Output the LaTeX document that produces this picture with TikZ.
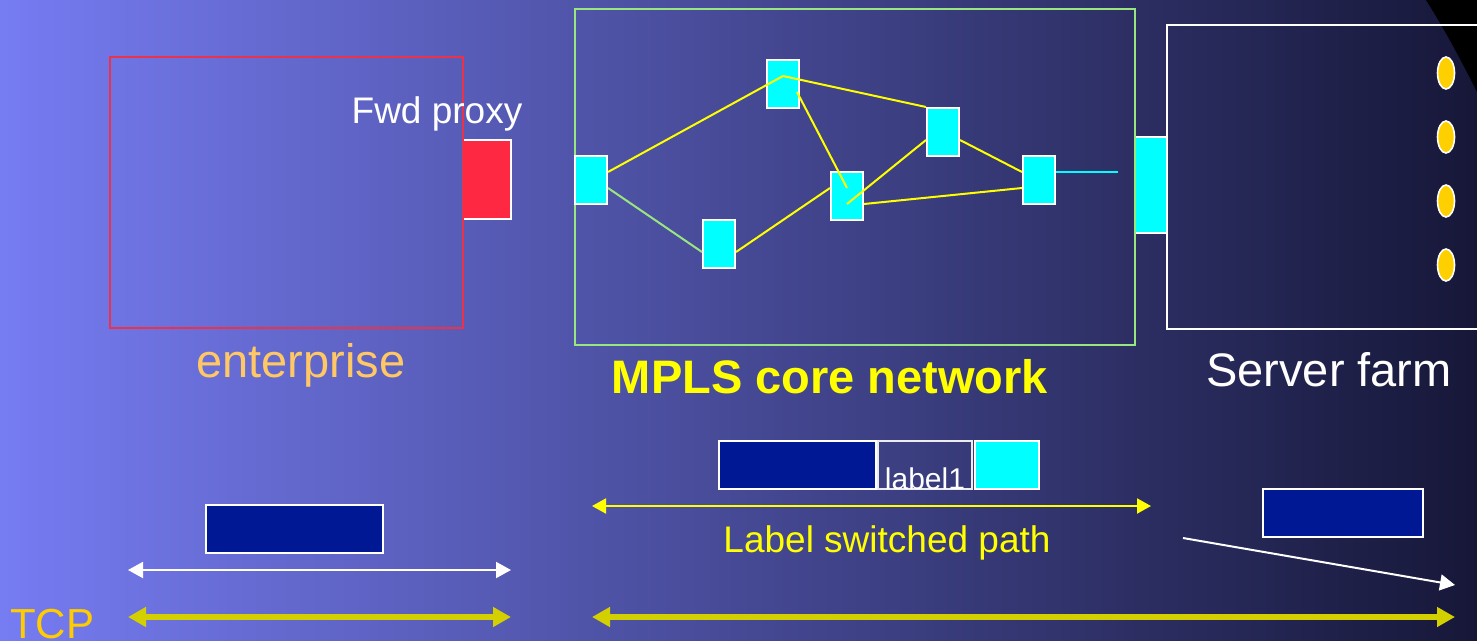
\documentclass[tikz,border=0pt]{standalone}
\usepackage{fontspec}
\setmainfont{Liberation Sans}
\usetikzlibrary{arrows.meta,calc,shapes.geometric}

\definecolor{bgL}{RGB}{118,124,242}
\definecolor{bgM}{RGB}{72,76,156}
\definecolor{bgR}{RGB}{22,23,56}
\definecolor{entred}{RGB}{235,50,75}
\definecolor{proxyred}{RGB}{255,40,66}
\definecolor{mplsgreen}{RGB}{153,230,128}
\definecolor{pktblue}{RGB}{0,24,148}
\definecolor{farmyellow}{RGB}{255,208,0}
\definecolor{entorange}{RGB}{255,200,100}
\definecolor{tcpyellow}{RGB}{212,208,0}
\definecolor{tcptext}{RGB}{255,204,0}
\definecolor{aqua}{RGB}{0,255,255}
\definecolor{lineyellow}{RGB}{255,255,0}

\newcommand{\fs}[1]{\fontsize{#1}{#1}\selectfont}

\tikzset{
  router/.style={draw=white, line width=2pt, fill=aqua, minimum width=32pt, minimum height=48pt, inner sep=0pt},
  link/.style={lineyellow, line width=2pt},
  pkt/.style={draw=white, line width=1.6pt, fill=pktblue, inner sep=0pt},
  server/.style={ellipse, draw=white, line width=1.6pt, fill=farmyellow, minimum width=17pt, minimum height=32pt, inner sep=0pt},
  thin arrow/.style={white, line width=2pt, -{Triangle[length=15pt,width=16pt]}},
  thin both/.style={line width=2pt, {Triangle[length=15pt,width=16pt]}-{Triangle[length=15pt,width=16pt]}},
  tcp both/.style={tcpyellow, line width=6pt, {Triangle[length=18pt,width=19pt]}-{Triangle[length=18pt,width=19pt]}},
  caption/.style={anchor=base, inner sep=0pt}
}

\begin{document}
\begin{tikzpicture}[x=1pt,y=-1pt]
  \useasboundingbox (0,0) rectangle (1477,640);
  % background gradient and dark corner
  \fill[left color=bgL, middle color=bgM, right color=bgR] (0,0) rectangle (1477,640);
  \fill[black] (1426,0) .. controls (1445,30) and (1462,62) .. (1477,92) -- (1477,0) -- cycle;

  % server farm
  \draw[white, line width=2pt] (1167,25) rectangle (1490,329);
  \foreach \y [count=\i] in {73,137,201,265}
    \node[server] (s\i) at (1446,\y) {};
  \node[caption, white] (farm) at (1329,386) {\fs{47}Server farm};

  % edge router between core and farm
  \node[router, minimum width=32pt, minimum height=96pt] (edge) at (1151,185) {};

  % MPLS core
  \draw[mplsgreen, line width=2pt] (575,9) rectangle (1135,345);
  \node[caption, lineyellow] (mpls) at (830,393) {\fs{47}\bfseries MPLS core network};

  \node[router] (r1) at (591,180) {};
  \node[router] (r2) at (783,84) {};
  \node[router] (r3) at (719,244) {};
  \node[router] (r4) at (847,196) {};
  \node[router] (r5) at (943,132) {};
  \node[router] (r6) at (1039,180) {};
  \coordinate (tail) at (1118,172);

  \draw[link] ($(r1.east)+(0,-8)$) -- ($(r2.center)+(0,-8)$) -- (r5.north west);
  \draw[link] ($(r2.center)+(14,8)$) -- ($(r4.center)+(0,-8)$);
  \draw[link] ($(r4.center)+(0,8)$) -- ($(r5.west)+(0,8)$);
  \draw[link] ($(r4.east)+(0,8)$) -- ($(r6.west)+(0,8)$);
  \draw[link] ($(r5.east)+(0,8)$) -- ($(r6.west)+(0,-8)$);
  \draw[mplsgreen, line width=2pt] ($(r1.east)+(0,8)$) -- ($(r3.west)+(0,8)$);
  \draw[link] ($(r3.east)+(0,8)$) -- ($(r4.west)+(0,-8)$);
  \draw[aqua, line width=2pt] ($(r6.east)+(0,-8)$) -- (tail);

  % enterprise with forward proxy
  \node[draw=white, line width=2pt, fill=proxyred, minimum width=48pt, minimum height=79pt, inner sep=0pt] (proxy) at (487,179.5) {};
  \draw[entred, line width=2pt] (110,57) rectangle (463,328);
  \node[caption, white] (fwd) at (437,123) {\fs{37}Fwd proxy};
  \node[caption, entorange] (ent) at (301,377) {\fs{47}enterprise};

  % packets
  \node[pkt, minimum width=177pt, minimum height=48pt] (p1) at (294.5,529) {};
  \node[pkt, minimum width=157pt, minimum height=48pt] (p2) at (797.5,465) {};
  \node[draw=white!85!gray, line width=1.4pt, minimum width=94pt, minimum height=48pt, inner sep=0pt] (lbl) at (925,465) {};
  \node[caption, white] (lbltxt) at (925,489) {\fs{30}label1};
  \node[draw=white, line width=1.6pt, fill=aqua, minimum width=64pt, minimum height=48pt, inner sep=0pt] (p2c) at (1007,465) {};
  \node[pkt, minimum width=160pt, minimum height=48pt] (p3) at (1343,513) {};

  % spans
  \coordinate (ea) at (128,570);  \coordinate (eb) at (511,570);
  \coordinate (la) at (592,506);  \coordinate (lb) at (1151,506);
  \coordinate (wa) at (1183,538); \coordinate (wb) at (1455,585);
  \coordinate (ta) at (128,617);  \coordinate (tb) at (511,617);
  \coordinate (tc) at (592,617);  \coordinate (td) at (1455,617);

  \draw[thin both, white] (ea) -- (eb);
  \draw[lineyellow, line width=2pt, {Triangle[length=14pt,width=15pt]}-{Triangle[length=14pt,width=15pt]}] (la) -- (lb);
  \node[caption, lineyellow] (lsp) at (887,552) {\fs{37}Label switched path};
  \draw[thin arrow] (wa) -- (wb);
  \draw[tcp both] (ta) -- (tb);
  \draw[tcp both] (tc) -- (td);
  \node[anchor=base west, inner sep=0pt, tcptext] (tcp) at (10,638) {\fs{42}TCP};
\end{tikzpicture}
\end{document}
